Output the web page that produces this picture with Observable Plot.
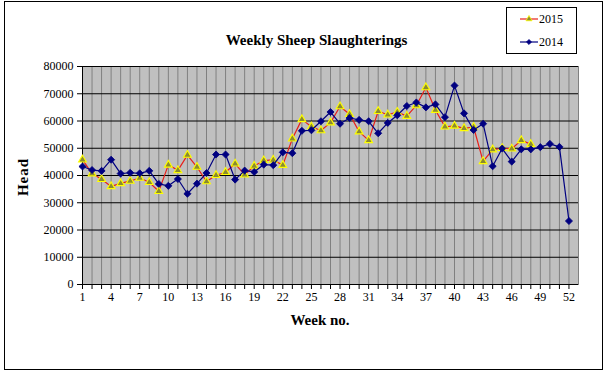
<!DOCTYPE html>
<html>
<head>
<meta charset="utf-8">
<script src="https://cdn.jsdelivr.net/npm/d3@7"></script>
<script src="https://cdn.jsdelivr.net/npm/@observablehq/plot@0.6"></script>
<style>
  html, body { margin: 0; padding: 0; background: #fff; }
  #wrap { position: relative; width: 609px; height: 375px; font-family: "Liberation Serif", "Times New Roman", serif; }
  #border { position: absolute; left: 4px; top: 1px; width: 597px; height: 367px; border: 1px solid #000; box-sizing: content-box; pointer-events: none; }
  #title { position: absolute; left: 0; width: 633px; top: 32px; text-align: center; font-weight: bold; font-size: 15px; }
  #ytitle { position: absolute; left: 23px; top: 177px; transform: translate(-50%, -50%) rotate(-90deg); font-weight: bold; font-size: 15px; letter-spacing: 1px; white-space: nowrap; }
  #xtitle { position: absolute; left: 0; width: 640px; top: 312px; text-align: center; font-weight: bold; font-size: 15px; }
  #legend { position: absolute; left: 506px; top: 7px; width: 69px; height: 45px; border: 1px solid #000; background: #fff; }
  #plot { position: absolute; left: 0; top: 0; }
  #plot svg text { font-family: "Liberation Serif", "Times New Roman", serif; }
</style>
</head>
<body>
<div id="wrap">
  <div id="plot"></div>
  <div id="title">Weekly Sheep Slaughterings</div>
  <div id="ytitle">Head</div>
  <div id="xtitle">Week no.</div>
  <div id="legend"></div>
  <div id="border"></div>
</div>
<script>
// Data
const series2015 = "2015";
const series2014 = "2014";
const values2015 = [45800,40700,38600,36000,37100,38000,39100,37500,34200,43900,
                    41900,47500,43100,37800,40100,41200,44300,40300,43500,45500,
                    45700,43800,53500,60600,57900,56500,59400,65300,62500,56100,
                    52900,63600,62300,63300,61800,65700,72300,64000,57900,58200,
                    57300,57800,45200,49500,50000,49800,52900,51500];
const values2014 = [43300,42000,41700,45800,40700,41000,40800,41700,36900,36200,
                    38700,33300,37000,40900,47700,47700,38500,41800,41300,44000,
                    43800,48500,48200,56400,56600,59900,63300,59000,61100,60400,
                    59900,55500,59300,62100,65500,66800,65000,66100,61400,73000,
                    62800,56700,59000,43400,49900,45100,49600,49600,50400,51600,
                    50500,23300];
const weekTicks = [1,2,3,4,5,6,7,8,9,10,11,12,13,14,15,16,17,18,19,20,21,22,23,24,25,26,
                   27,28,29,30,31,32,33,34,35,36,37,38,39,40,41,42,43,44,45,46,47,48,49,50,51,52];
const weekLabels = [1,4,7,10,13,16,19,22,25,28,31,34,37,40,43,46,49,52];
const yTicks = [0,10000,20000,30000,40000,50000,60000,70000,80000];

const rows2015 = values2015.map((v, i) => ({week: i + 1, value: v}));
const rows2014 = values2014.map((v, i) => ({week: i + 1, value: v}));

const red = "#e8201a", navy = "#000080", triFill = "#8a8a30", triStroke = "#ffff00";

const chart = Plot.plot({
  width: 609,
  height: 375,
  marginLeft: 82,
  marginRight: 31,
  marginTop: 66,
  marginBottom: 91,
  style: { fontFamily: "'Liberation Serif', 'Times New Roman', serif", fontSize: "12px", color: "#000", background: "transparent" },
  x: { type: "linear", domain: [1, 53] },
  y: { domain: [0, 80000] },
  marks: [
    Plot.frame({ fill: "#c0c0c0", stroke: "#808080" }),
    Plot.gridX(weekTicks.concat([53]), { stroke: "#808080", strokeOpacity: 1 }),
    Plot.gridY(yTicks, { stroke: "#000", strokeOpacity: 1 }),
    Plot.ruleX([1], { stroke: "#000" }),
    Plot.ruleY([0], { stroke: "#000" }),
    Plot.axisY(yTicks, { tickSize: 5, tickPadding: 4, tickFormat: d => String(d), label: null, fontSize: 12 }),
    Plot.axisX(weekTicks, { tickSize: 5, tickPadding: 3, tickFormat: d => weekLabels.includes(d) ? String(d) : "", label: null, fontSize: 12 }),
    Plot.line(rows2015, { x: "week", y: "value", stroke: red, strokeWidth: 1.2 }),
    Plot.dot(rows2015, { x: "week", y: "value", symbol: "triangle", r: 2.9, fill: triFill, stroke: triStroke, strokeWidth: 1.1 }),
    Plot.line(rows2014, { x: "week", y: "value", stroke: navy, strokeWidth: 1.2 }),
    Plot.dot(rows2014, { x: "week", y: "value", symbol: "diamond2", r: 3.2, fill: navy, stroke: navy, strokeWidth: 0.8 })
  ]
});
document.getElementById("plot").appendChild(chart);

// Legend
const legendItems = [
  { name: series2015, color: red, symbol: d3.symbolTriangle, fill: triFill, stroke: triStroke },
  { name: series2014, color: navy, symbol: d3.symbolDiamond2, fill: navy, stroke: navy }
];
const lg = d3.select("#legend").append("svg").attr("width", 69).attr("height", 45)
  .style("font-family", "'Liberation Serif', 'Times New Roman', serif").style("font-size", "12px");
legendItems.forEach((it, i) => {
  const y = 11 + i * 23;
  lg.append("line").attr("x1", 13).attr("x2", 31).attr("y1", y).attr("y2", y).attr("stroke", it.color).attr("stroke-width", 1.2);
  lg.append("path").attr("d", d3.symbol(it.symbol, 16)()).attr("transform", `translate(22,${y})`)
    .attr("fill", it.fill).attr("stroke", it.stroke).attr("stroke-width", 0.8);
  lg.append("text").attr("x", 32).attr("y", y + 4).text(it.name);
});
</script>
</body>
</html>
